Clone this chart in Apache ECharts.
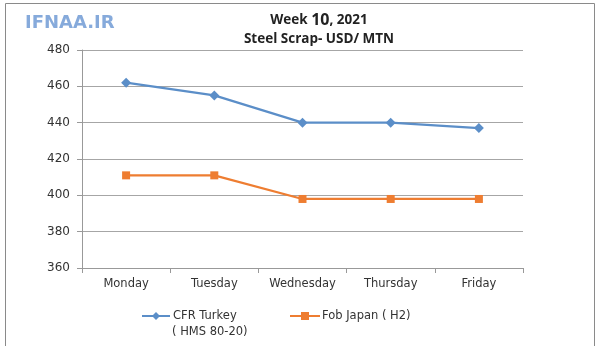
<!DOCTYPE html>
<html><head><meta charset="utf-8">
<script src="https://cdn.jsdelivr.net/npm/echarts@6/dist/echarts.min.js"></script>
<style>html,body{margin:0;padding:0;background:#fff}#c{width:600px;height:346px}</style>
</head><body><div id="c"></div>
<script>
const categories = ['Monday', 'Tuesday', 'Wednesday', 'Thursday', 'Friday'];
const cfrTurkey = [462, 455, 440, 440, 437];
const fobJapan = [411, 411, 398, 398, 398];
const yTicks = { min: 360, max: 480, interval: 20 };
const seriesNames = ['CFR Turkey', 'Fob Japan ( H2)'];

const FONT = 'DejaVu Sans';
const chart = echarts.init(document.getElementById('c'), null, { renderer: 'canvas' });
chart.setOption({
  backgroundColor: '#fff',
  animation: false,
  title: {
    text: '{a|Week }{b|10}{a|, 2021}\n{a|Steel Scrap- USD/ MTN}',
    left: 314, top: 6, textAlign: 'center',
    textStyle: {
      rich: {
        a: { fontFamily: 'Open Sans', fontWeight: 'bold', fontSize: 13.5, color: '#222', lineHeight: 19 },
        b: { fontFamily: 'Open Sans', fontWeight: 'bold', fontSize: 16, color: '#222', lineHeight: 19 }
      }
    }
  },
  grid: { left: 82, right: 77, top: 50, bottom: 78 },
  legend: [
    {
      data: [seriesNames[0]], left: 136, top: 305, itemWidth: 28, itemHeight: 10, itemGap: 0,
      textStyle: { fontFamily: FONT, fontSize: 11.5, color: '#333', padding: [0, 0, 0, -2] }
    },
    {
      data: [seriesNames[1]], left: 284, top: 305, itemWidth: 30, itemHeight: 10,
      textStyle: { fontFamily: FONT, fontSize: 11.5, color: '#333', padding: [0, 0, 0, -3] }
    }
  ],
  xAxis: {
    type: 'category', data: categories, boundaryGap: true,
    axisLine: { lineStyle: { color: '#999', width: 1 } },
    axisTick: { show: true, length: 5, inside: false, interval: 0, lineStyle: { color: '#999' } },
    axisLabel: { fontFamily: FONT, fontSize: 11.5, color: '#333', margin: 10, interval: 0 }
  },
  yAxis: {
    type: 'value', min: yTicks.min, max: yTicks.max, interval: yTicks.interval,
    axisLine: { show: true, lineStyle: { color: '#999', width: 1 } },
    axisTick: { show: true, length: 5, lineStyle: { color: '#999' } },
    axisLabel: { fontFamily: FONT, fontSize: 12, color: '#333', margin: 12 },
    splitLine: { show: true, lineStyle: { color: '#a6a6a6', width: 1 } }
  },
  series: [
    {
      name: seriesNames[0], type: 'line', data: cfrTurkey,
      symbol: 'diamond', symbolSize: 10,
      lineStyle: { color: '#5b8ec8', width: 2.2 },
      itemStyle: { color: '#5b8ec8' }
    },
    {
      name: seriesNames[1], type: 'line', data: fobJapan,
      symbol: 'rect', symbolSize: 8,
      lineStyle: { color: '#ee7d31', width: 2.2 },
      itemStyle: { color: '#ee7d31' }
    }
  ],
  graphic: [
    {
      type: 'rect', left: 3, top: 1, silent: true,
      shape: { width: 589, height: 343 },
      style: { fill: 'none', stroke: '#8a8a8a', lineWidth: 1 }
    },
    {
      type: 'text', left: 25, top: 14,
      style: {
        text: 'IFNAA.IR', fontFamily: 'DejaVu Sans', fontWeight: 'bold', fontSize: 18, fill: '#86aadb',
        shadowColor: 'rgba(60,60,90,0.3)', shadowBlur: 2, shadowOffsetX: 1, shadowOffsetY: 1
      }
    },
    {
      type: 'text', left: 172, top: 326,
      style: { text: '( HMS 80-20)', fontFamily: FONT, fontSize: 11.5, fill: '#333' }
    }
  ]
});
</script></body></html>
